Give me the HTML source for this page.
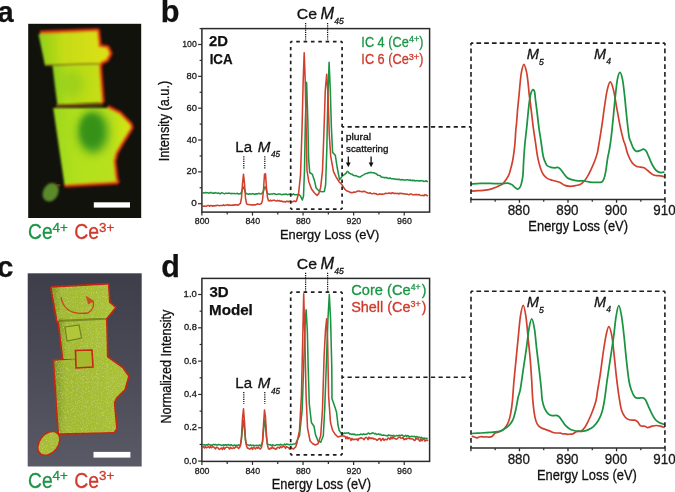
<!DOCTYPE html>
<html><head><meta charset="utf-8"><style>
html,body{margin:0;padding:0;background:#fff;width:675px;height:492px;overflow:hidden}
svg{display:block;will-change:transform}
</style></head><body>
<svg width="675" height="492" viewBox="0 0 675 492" font-family='"Liberation Sans", sans-serif'>
<defs><filter id="blur1" x="-20%" y="-20%" width="140%" height="140%"><feGaussianBlur stdDeviation="1.2"/></filter><filter id="blur2" x="-20%" y="-20%" width="140%" height="140%"><feGaussianBlur stdDeviation="2.5"/></filter><filter id="blur3" x="-50%" y="-50%" width="200%" height="200%"><feGaussianBlur stdDeviation="5"/></filter><filter id="grain" x="0" y="0" width="100%" height="100%"><feTurbulence type="fractalNoise" baseFrequency="0.9" numOctaves="1" seed="3" result="n"/><feColorMatrix in="n" type="matrix" values="0 0 0 0 0.35  0 0 0 0 0.35  0 0 0 0 0  0 0 0 0.9 -0.25" result="m"/><feComposite in="m" in2="SourceGraphic" operator="in"/></filter></defs>
<rect width="675" height="492" fill="#fff"/>
<text x="-2.53" y="21.8" font-size="29.07" font-weight="bold" fill="#111" stroke="#111" stroke-width="0.25">a</text>
<text x="160.77" y="21.8" font-size="30.76" font-weight="bold" fill="#111" stroke="#111" stroke-width="0.25">b</text>
<text x="-2.96" y="276.7" font-size="29.44" font-weight="bold" fill="#111" stroke="#111" stroke-width="0.25">c</text>
<text x="161.19" y="276.7" font-size="30.48" font-weight="bold" fill="#111" stroke="#111" stroke-width="0.25">d</text>
<rect x="28.2" y="23.8" width="113" height="194.2" fill="#11120c"/>
<defs><linearGradient id="ga1" x1="0" y1="0" x2="1" y2="0"><stop offset="0" stop-color="#8ccf1c"/><stop offset="0.35" stop-color="#c4dc14"/><stop offset="1" stop-color="#dfe014"/></linearGradient><linearGradient id="ga2" x1="0" y1="0" x2="1" y2="0"><stop offset="0" stop-color="#8ad01e"/><stop offset="0.3" stop-color="#b4dc1a"/><stop offset="1" stop-color="#c6de16"/></linearGradient><linearGradient id="ga3" x1="0" y1="0" x2="1" y2="0"><stop offset="0" stop-color="#9cd81c"/><stop offset="0.3" stop-color="#b2e01a"/><stop offset="0.75" stop-color="#b8e01a"/><stop offset="1" stop-color="#d6e418"/></linearGradient><filter id="fa" x="-10%" y="-10%" width="120%" height="120%"><feGaussianBlur stdDeviation="1.3"/></filter></defs>
<g filter="url(#fa)">
<path d="M40,33.8 L97,31.4 L98.6,47 L107,48.4 L109.2,53.5 L106,59.2 L100.2,62.2 L99.2,64.8" fill="none" stroke="#b8200c" stroke-width="7" stroke-linejoin="round"/>
<path d="M98.6,63.4 L101.6,102.8" fill="none" stroke="#b8200c" stroke-width="7" stroke-linejoin="round"/>
<path d="M107,108 L119.3,114.2 L129.4,124.4 L130.4,127.4 L125.4,135.6 L120.3,143.7 L115.2,152.8 L113.2,161 L115.2,179.3 L116.2,181.3 L64.4,184.3" fill="none" stroke="#b8200c" stroke-width="7" stroke-linejoin="round"/>
<path d="M40,33.8 L97,31.4 L98.6,47 L107,48.4 L109.2,53.5 L106,59.2 L100.2,62.2 L99.2,64.8" fill="none" stroke="#e0580e" stroke-width="3.6" stroke-linejoin="round"/>
<path d="M98.6,63.4 L101.6,102.8" fill="none" stroke="#e0580e" stroke-width="3.6" stroke-linejoin="round"/>
<path d="M107,108 L119.3,114.2 L129.4,124.4 L130.4,127.4 L125.4,135.6 L120.3,143.7 L115.2,152.8 L113.2,161 L115.2,179.3 L116.2,181.3 L64.4,184.3" fill="none" stroke="#e0580e" stroke-width="3.6" stroke-linejoin="round"/>
<path d="M38.50,34.20 L97.00,31.60 L98.50,47.00 L107.00,48.50 L109.00,53.50 L106.00,59.10 L100.20,62.00 L99.00,64.50 L45.00,65.50Z" fill="url(#ga1)"/>
<path d="M52.40,65.00 L98.60,63.30 L101.60,102.50 L57.30,104.50Z" fill="url(#ga2)"/>
<path d="M53.20,108.10 L107.00,108.10 L119.30,114.20 L129.40,124.40 L130.40,127.40 L125.40,135.60 L120.30,143.70 L115.20,152.80 L113.20,161.00 L115.20,179.30 L116.20,181.30 L64.40,184.30Z" fill="url(#ga3)"/>
<path d="M46,65.2 L99,63.6" stroke="#7d5a12" stroke-width="1.4" fill="none"/>
<path d="M56,105.8 L103,104.6" stroke="#9a3c10" stroke-width="2" fill="none"/>
</g>
<ellipse cx="93" cy="132" rx="15" ry="21" fill="#3a981c" filter="url(#blur3)"/>
<ellipse cx="91" cy="130" rx="10" ry="15" fill="#359018" opacity="0.8" filter="url(#blur2)"/>
<ellipse cx="72" cy="84" rx="12" ry="14" fill="#86c81e" opacity="0.5" filter="url(#blur3)"/>
<ellipse cx="50.6" cy="192.3" rx="7.5" ry="9.8" transform="rotate(28 50.6 192.3)" fill="#5a8a2c" filter="url(#blur1)"/>
<path d="M56,186 L60,184.5" stroke="#a04818" stroke-width="2" filter="url(#blur1)"/>
<rect x="93.8" y="202.3" width="36.2" height="5.3" fill="#fff"/>
<defs><linearGradient id="gbg" x1="0" y1="0" x2="0" y2="1"><stop offset="0" stop-color="#3e3e4b"/><stop offset="0.6" stop-color="#4e4e5b"/><stop offset="1" stop-color="#5a5a67"/></linearGradient></defs>
<rect x="27.7" y="273.3" width="114" height="193.2" fill="url(#gbg)"/>
<defs><filter id="tex" x="0" y="0" width="100%" height="100%"><feTurbulence type="fractalNoise" baseFrequency="0.8" numOctaves="2" seed="7" result="n"/><feColorMatrix in="n" type="matrix" values="0 0 0 0 0.74  0 0 0 0 0.8  0 0 0 0 0.28  1.6 0 0 0 -0.85" result="hi"/><feColorMatrix in="n" type="matrix" values="0 0 0 0 0.42  0 0 0 0 0.52  0 0 0 0 0.1  -2.6 0 0 0 1.25" result="lo"/><feComposite in="hi" in2="SourceGraphic" operator="in" result="hi2"/><feComposite in="lo" in2="SourceGraphic" operator="in" result="lo2"/><feMerge><feMergeNode in="SourceGraphic"/><feMergeNode in="hi2"/><feMergeNode in="lo2"/></feMerge></filter><filter id="fc" x="-10%" y="-10%" width="120%" height="120%"><feGaussianBlur stdDeviation="0.6"/></filter><linearGradient id="gc" x1="0" y1="0" x2="1" y2="0"><stop offset="0" stop-color="#7c9422"/><stop offset="0.15" stop-color="#a0b82e"/><stop offset="1" stop-color="#aac232"/></linearGradient></defs>
<g filter="url(#fc)">
<path d="M51.70,287.80 L107.90,284.80 L108.90,302.60 L114.80,307.50 L110.80,312.40 L105.90,318.40 L57.60,321.30Z" fill="none" stroke="#c42812" stroke-width="3.4" stroke-linejoin="round"/>
<path d="M58.60,318.50 L105.90,316.40 L106.90,358.00 L63.50,359.00Z" fill="none" stroke="#c42812" stroke-width="3.4" stroke-linejoin="round"/>
<path d="M54.20,360.70 L106.60,357.10 L122.00,367.90 L128.00,376.20 L124.40,389.30 L116.10,397.60 L113.70,402.40 L116.10,428.60 L113.70,432.10 L59.00,433.30Z" fill="none" stroke="#c42812" stroke-width="3.4" stroke-linejoin="round"/>
<ellipse cx="48.8" cy="443.4" rx="8.5" ry="12.5" transform="rotate(38 48.8 443.4)" fill="none" stroke="#c42812" stroke-width="3"/>
</g>
<g filter="url(#tex)">
<path d="M51.70,287.80 L107.90,284.80 L108.90,302.60 L114.80,307.50 L110.80,312.40 L105.90,318.40 L57.60,321.30Z" fill="url(#gc)"/>
<path d="M58.60,318.50 L105.90,316.40 L106.90,358.00 L63.50,359.00Z" fill="url(#gc)"/>
<path d="M54.20,360.70 L106.60,357.10 L122.00,367.90 L128.00,376.20 L124.40,389.30 L116.10,397.60 L113.70,402.40 L116.10,428.60 L113.70,432.10 L59.00,433.30Z" fill="url(#gc)"/>
<ellipse cx="48.8" cy="443.4" rx="8.5" ry="12.5" transform="rotate(38 48.8 443.4)" fill="#a8bc30"/>
</g>
<path d="M58.5,321 L106,318.6" stroke="#6c7c1c" stroke-width="2.2" opacity="0.8" filter="url(#fc)"/>
<path d="M65,327 L79,325 L81.5,338 L67,341Z" fill="#b2c63a" stroke="#6f8420" stroke-width="1.2"/>
<path d="M75.5,350.5 L92,350 L93,367 L76,368Z" fill="#a6ba30" stroke="#c42812" stroke-width="1.6"/>
<path d="M61,297 Q64,316 88,313 Q95,309 93,301" stroke="#c8301a" stroke-width="1.3" fill="none" opacity="0.85"/>
<path d="M86,296.5 L93,301 L88,304" stroke="#d23a1a" stroke-width="1.2" fill="#d23a1a" opacity="0.85"/>
<rect x="93.5" y="451.9" width="36.9" height="5.7" fill="#fff"/>
<text x="28.04" y="239.1" font-size="22.14" textLength="24.59" lengthAdjust="spacingAndGlyphs" fill="#1a9545" stroke="#1a9545" stroke-width="0.3">Ce</text>
<text x="52.53" y="231.9" font-size="13.48" textLength="15.34" lengthAdjust="spacingAndGlyphs" fill="#1a9545" stroke="#1a9545" stroke-width="0.3">4+</text>
<text x="74.23" y="239.1" font-size="22.14" textLength="24.81" lengthAdjust="spacingAndGlyphs" fill="#cf3a2c" stroke="#cf3a2c" stroke-width="0.3">Ce</text>
<text x="98.96" y="231.9" font-size="13.29" textLength="15.31" lengthAdjust="spacingAndGlyphs" fill="#cf3a2c" stroke="#cf3a2c" stroke-width="0.3">3+</text>
<text x="28.04" y="487.6" font-size="22.14" textLength="24.59" lengthAdjust="spacingAndGlyphs" fill="#1a9545" stroke="#1a9545" stroke-width="0.3">Ce</text>
<text x="52.53" y="480.4" font-size="13.48" textLength="15.34" lengthAdjust="spacingAndGlyphs" fill="#1a9545" stroke="#1a9545" stroke-width="0.3">4+</text>
<text x="74.23" y="487.6" font-size="22.14" textLength="24.81" lengthAdjust="spacingAndGlyphs" fill="#cf3a2c" stroke="#cf3a2c" stroke-width="0.3">Ce</text>
<text x="98.96" y="480.4" font-size="13.29" textLength="15.31" lengthAdjust="spacingAndGlyphs" fill="#cf3a2c" stroke="#cf3a2c" stroke-width="0.3">3+</text>
<path d="M202.50,192.27 L203.50,192.95 L204.50,192.91 L205.50,192.49 L206.50,192.74 L207.50,192.74 L208.50,192.95 L209.50,193.11 L210.50,192.53 L211.50,192.50 L212.50,193.27 L213.50,192.94 L214.50,193.27 L215.50,192.62 L216.50,193.06 L217.50,193.34 L218.50,192.94 L219.50,193.62 L220.50,193.62 L221.50,192.87 L222.50,192.90 L223.50,193.40 L224.50,193.80 L225.50,193.33 L226.50,193.22 L227.50,193.44 L228.50,193.12 L229.50,193.33 L230.50,193.55 L231.50,193.62 L232.50,193.41 L233.50,193.42 L234.50,193.43 L235.50,193.66 L236.50,193.53 L237.50,193.31 L238.50,194.06 L239.50,193.81 L240.50,193.75 L241.50,192.22 L242.50,189.30 L243.50,187.00 L244.50,189.30 L245.50,192.35 L246.50,193.83 L247.50,193.98 L248.50,194.19 L249.50,193.73 L250.50,194.10 L251.50,193.95 L252.50,193.62 L253.50,193.88 L254.50,194.14 L255.50,194.11 L256.50,193.80 L257.50,193.88 L258.50,193.38 L259.50,193.57 L260.50,194.07 L261.50,193.67 L262.50,192.94 L263.50,190.83 L264.50,187.00 L265.50,187.02 L266.50,190.90 L267.50,193.29 L268.50,193.90 L269.50,194.22 L270.50,194.01 L271.50,193.92 L272.50,194.02 L273.50,193.63 L274.50,193.67 L275.50,194.28 L276.50,194.56 L277.50,194.23 L278.50,194.07 L279.50,193.89 L280.50,194.21 L281.50,194.65 L282.50,194.47 L283.50,194.28 L284.50,194.58 L285.50,194.03 L286.50,194.29 L287.50,194.70 L288.50,194.37 L289.50,194.28 L290.50,194.12 L291.50,194.38 L292.50,194.76 L293.50,193.92 L294.50,194.63 L295.50,194.68 L296.50,194.75 L299.00,194.50 L300.50,196.00 L302.30,200.00 L303.50,196.00 L304.50,170.00 L305.40,120.00 L306.60,82.40 L307.80,120.00 L308.60,158.00 L309.70,172.50 L312.40,174.40 L314.30,179.90 L316.10,188.00 L318.80,190.80 L321.60,191.80 L324.30,191.50 L325.60,185.00 L326.80,150.00 L327.80,100.00 L329.10,62.30 L330.30,90.00 L331.40,128.00 L332.60,152.40 L335.30,155.20 L337.10,167.00 L339.60,179.80 L342.50,175.90 L345.00,174.21 L346.00,173.35 L347.00,171.60 L348.00,171.63 L349.00,172.96 L350.00,173.44 L351.00,173.95 L352.00,174.17 L353.00,175.05 L354.00,175.40 L355.00,175.70 L356.00,175.61 L357.00,176.21 L358.00,176.50 L359.00,177.08 L360.00,176.94 L361.00,176.48 L362.00,175.66 L363.00,175.15 L364.00,174.56 L365.00,173.91 L366.00,173.49 L367.00,173.51 L368.00,172.95 L369.00,172.60 L370.00,172.70 L371.00,172.29 L372.00,172.65 L373.00,172.66 L374.00,172.77 L375.00,173.40 L376.00,173.54 L377.00,174.37 L378.00,175.36 L379.00,175.55 L380.00,175.56 L381.00,176.78 L382.00,177.20 L383.00,177.29 L384.00,177.62 L385.00,177.63 L386.00,177.81 L387.00,177.53 L388.00,178.32 L389.00,178.47 L390.00,177.84 L391.00,178.61 L392.00,178.74 L393.00,178.66 L394.00,178.87 L395.00,178.92 L396.00,179.45 L397.00,179.12 L398.00,179.54 L399.00,179.16 L400.00,179.78 L401.00,179.88 L402.00,179.52 L403.00,179.71 L404.00,180.14 L405.00,180.02 L406.00,179.87 L407.00,179.68 L408.00,179.86 L409.00,180.32 L410.00,179.87 L411.00,180.67 L412.00,180.09 L413.00,180.79 L414.00,180.25 L415.00,180.96 L416.00,180.77 L417.00,180.62 L418.00,180.70 L419.00,180.89 L420.00,180.89 L421.00,180.67 L422.00,180.63 L423.00,180.99 L424.00,181.47 L425.00,181.22 L426.00,180.73 L427.00,181.53 L428.00,181.50" stroke="#1b9442" stroke-width="1.55" fill="none" stroke-linejoin="round"/>
<path d="M202.50,206.04 L203.50,206.29 L204.50,206.06 L205.50,206.24 L206.50,206.20 L207.50,205.59 L208.50,205.48 L209.50,206.25 L210.50,205.61 L211.50,205.53 L212.50,206.24 L213.50,205.65 L214.50,205.96 L215.50,205.56 L216.50,205.68 L217.50,205.15 L218.50,205.59 L219.50,205.79 L220.50,205.40 L221.50,205.58 L222.50,205.47 L223.50,204.82 L224.50,205.48 L225.50,205.27 L226.50,204.94 L227.50,204.63 L228.50,205.43 L229.50,204.99 L230.50,205.20 L231.50,205.32 L232.50,205.11 L233.50,205.28 L234.50,204.71 L235.50,205.08 L236.50,204.68 L237.50,205.14 L238.50,205.04 L239.50,204.15 L240.50,203.22 L241.50,197.90 L242.50,183.77 L243.50,174.20 L244.50,183.77 L245.50,197.90 L246.50,203.60 L247.50,204.41 L248.50,204.45 L249.50,204.69 L250.50,204.68 L251.50,205.00 L252.50,204.78 L253.50,205.03 L254.50,204.88 L255.50,204.88 L256.50,204.41 L257.50,203.76 L258.50,204.32 L259.50,204.28 L260.50,204.06 L261.50,203.16 L262.50,200.29 L263.50,189.46 L264.50,174.26 L265.50,173.83 L266.50,188.17 L267.50,197.50 L268.50,200.65 L269.50,201.05 L270.50,200.15 L271.50,200.85 L272.50,200.45 L273.50,200.17 L274.50,200.30 L275.50,200.82 L276.50,201.02 L277.50,200.29 L278.50,200.96 L279.50,200.49 L280.50,201.27 L281.50,200.98 L282.50,201.63 L283.50,201.83 L284.50,201.46 L285.50,202.02 L286.50,201.37 L287.50,201.18 L288.50,201.75 L289.50,201.22 L290.50,201.43 L291.50,201.69 L292.50,201.84 L293.50,201.26 L294.50,201.01 L295.50,201.70 L296.50,201.01 L298.70,192.70 L300.50,175.00 L302.00,130.00 L303.20,80.00 L304.20,52.80 L305.20,80.00 L306.20,130.00 L307.00,170.70 L308.80,181.70 L311.50,189.00 L314.30,192.70 L317.00,195.40 L318.80,193.60 L320.70,187.20 L322.50,170.70 L324.00,130.00 L325.30,90.00 L326.70,74.20 L328.00,95.00 L329.30,135.00 L330.70,156.10 L333.50,171.60 L336.20,177.10 L339.00,181.70 L341.70,184.40 L345.00,189.46 L346.00,190.26 L347.00,191.07 L348.00,191.29 L349.00,191.68 L350.00,192.19 L351.00,192.76 L352.00,192.63 L353.00,192.59 L354.00,191.99 L355.00,192.34 L356.00,191.81 L357.00,191.43 L358.00,191.08 L359.00,190.93 L360.00,191.48 L361.00,191.52 L362.00,191.64 L363.00,191.78 L364.00,191.26 L365.00,191.57 L366.00,192.20 L367.00,192.59 L368.00,193.00 L369.00,193.30 L370.00,192.71 L371.00,193.47 L372.00,193.66 L373.00,193.60 L374.00,193.35 L375.00,193.80 L376.00,193.49 L377.00,194.54 L378.00,194.58 L379.00,194.18 L380.00,193.81 L381.00,194.39 L382.00,193.92 L383.00,194.17 L384.00,194.04 L385.00,193.57 L386.00,193.37 L387.00,193.48 L388.00,193.23 L389.00,192.95 L390.00,193.12 L391.00,193.70 L392.00,192.87 L393.00,192.89 L394.00,193.54 L395.00,193.18 L396.00,193.47 L397.00,193.42 L398.00,193.29 L399.00,194.03 L400.00,193.17 L401.00,193.50 L402.00,193.37 L403.00,193.95 L404.00,193.65 L405.00,193.84 L406.00,194.37 L407.00,194.00 L408.00,194.36 L409.00,194.84 L410.00,194.06 L411.00,194.07 L412.00,194.30 L413.00,194.94 L414.00,194.83 L415.00,194.46 L416.00,194.61 L417.00,194.50 L418.00,194.85 L419.00,194.45 L420.00,195.22 L421.00,195.47 L422.00,195.57 L423.00,195.36 L424.00,195.65 L425.00,194.65 L426.00,194.98 L427.00,195.76 L428.00,195.59" stroke="#d0402e" stroke-width="1.55" fill="none" stroke-linejoin="round"/>
<rect x="201.9" y="28.6" width="227.70" height="183.50" fill="none" stroke="#2b2b2b" stroke-width="1.5"/>
<line x1="198.1" y1="203.70" x2="201.9" y2="203.70" stroke="#2b2b2b" stroke-width="1.2"/>
<line x1="198.1" y1="171.86" x2="201.9" y2="171.86" stroke="#2b2b2b" stroke-width="1.2"/>
<line x1="198.1" y1="140.02" x2="201.9" y2="140.02" stroke="#2b2b2b" stroke-width="1.2"/>
<line x1="198.1" y1="108.18" x2="201.9" y2="108.18" stroke="#2b2b2b" stroke-width="1.2"/>
<line x1="198.1" y1="76.34" x2="201.9" y2="76.34" stroke="#2b2b2b" stroke-width="1.2"/>
<line x1="198.1" y1="44.50" x2="201.9" y2="44.50" stroke="#2b2b2b" stroke-width="1.2"/>
<line x1="199.6" y1="187.78" x2="201.9" y2="187.78" stroke="#2b2b2b" stroke-width="1.2"/>
<line x1="199.6" y1="155.94" x2="201.9" y2="155.94" stroke="#2b2b2b" stroke-width="1.2"/>
<line x1="199.6" y1="124.10" x2="201.9" y2="124.10" stroke="#2b2b2b" stroke-width="1.2"/>
<line x1="199.6" y1="92.26" x2="201.9" y2="92.26" stroke="#2b2b2b" stroke-width="1.2"/>
<line x1="199.6" y1="60.42" x2="201.9" y2="60.42" stroke="#2b2b2b" stroke-width="1.2"/>
<line x1="199.6" y1="28.58" x2="201.9" y2="28.58" stroke="#2b2b2b" stroke-width="1.2"/>
<text x="191.3" y="206.2" font-size="9.86" textLength="5.56" lengthAdjust="spacingAndGlyphs" fill="#1a1a1a" stroke="#1a1a1a" stroke-width="0.3">0</text>
<text x="186.43" y="174.36" font-size="9.86" textLength="10.42" lengthAdjust="spacingAndGlyphs" fill="#1a1a1a" stroke="#1a1a1a" stroke-width="0.3">20</text>
<text x="186.72" y="142.52" font-size="9.86" textLength="10.12" lengthAdjust="spacingAndGlyphs" fill="#1a1a1a" stroke="#1a1a1a" stroke-width="0.3">40</text>
<text x="186.43" y="110.68" font-size="9.86" textLength="10.42" lengthAdjust="spacingAndGlyphs" fill="#1a1a1a" stroke="#1a1a1a" stroke-width="0.3">60</text>
<text x="186.48" y="78.84" font-size="9.86" textLength="10.37" lengthAdjust="spacingAndGlyphs" fill="#1a1a1a" stroke="#1a1a1a" stroke-width="0.3">80</text>
<text x="182.24" y="47.0" font-size="9.86" textLength="14.59" lengthAdjust="spacingAndGlyphs" fill="#1a1a1a" stroke="#1a1a1a" stroke-width="0.3">100</text>
<line x1="201.90" y1="212.1" x2="201.90" y2="215.6" stroke="#2b2b2b" stroke-width="1.2"/>
<text x="194.8" y="224.3" font-size="9.71" textLength="14.74" lengthAdjust="spacingAndGlyphs" fill="#1a1a1a" stroke="#1a1a1a" stroke-width="0.3">800</text>
<line x1="252.48" y1="212.1" x2="252.48" y2="215.6" stroke="#2b2b2b" stroke-width="1.2"/>
<text x="245.38" y="224.3" font-size="9.71" textLength="14.74" lengthAdjust="spacingAndGlyphs" fill="#1a1a1a" stroke="#1a1a1a" stroke-width="0.3">840</text>
<line x1="303.06" y1="212.1" x2="303.06" y2="215.6" stroke="#2b2b2b" stroke-width="1.2"/>
<text x="295.96" y="224.3" font-size="9.71" textLength="14.74" lengthAdjust="spacingAndGlyphs" fill="#1a1a1a" stroke="#1a1a1a" stroke-width="0.3">880</text>
<line x1="353.64" y1="212.1" x2="353.64" y2="215.6" stroke="#2b2b2b" stroke-width="1.2"/>
<text x="346.54" y="224.3" font-size="9.71" textLength="14.74" lengthAdjust="spacingAndGlyphs" fill="#1a1a1a" stroke="#1a1a1a" stroke-width="0.3">920</text>
<line x1="404.22" y1="212.1" x2="404.22" y2="215.6" stroke="#2b2b2b" stroke-width="1.2"/>
<text x="397.12" y="224.3" font-size="9.71" textLength="14.74" lengthAdjust="spacingAndGlyphs" fill="#1a1a1a" stroke="#1a1a1a" stroke-width="0.3">960</text>
<line x1="227.19" y1="212.1" x2="227.19" y2="214.6" stroke="#2b2b2b" stroke-width="1.2"/>
<line x1="277.77" y1="212.1" x2="277.77" y2="214.6" stroke="#2b2b2b" stroke-width="1.2"/>
<line x1="328.35" y1="212.1" x2="328.35" y2="214.6" stroke="#2b2b2b" stroke-width="1.2"/>
<line x1="378.93" y1="212.1" x2="378.93" y2="214.6" stroke="#2b2b2b" stroke-width="1.2"/>
<text x="279.97" y="239.2" font-size="13.48" textLength="99.21" lengthAdjust="spacingAndGlyphs" fill="#111" stroke="#111" stroke-width="0.3">Energy Loss (eV)</text>
<text transform="translate(168.70 160.20) rotate(-90)" x="-1.14" y="0" font-size="14.20" fill="#111" stroke="#111" stroke-width="0.3" textLength="80.52" lengthAdjust="spacingAndGlyphs">Intensity (a.u.)</text>
<line x1="290.70" y1="41.60" x2="342.10" y2="41.60" stroke="#1e1e1e" stroke-width="1.7" stroke-dasharray="3.60 3.74" stroke-dashoffset="1.80"/>
<line x1="290.70" y1="209.10" x2="342.10" y2="209.10" stroke="#1e1e1e" stroke-width="1.7" stroke-dasharray="3.60 3.74" stroke-dashoffset="1.80"/>
<line x1="290.70" y1="41.60" x2="290.70" y2="209.10" stroke="#1e1e1e" stroke-width="1.7" stroke-dasharray="3.40 3.58" stroke-dashoffset="1.70"/>
<line x1="342.10" y1="41.60" x2="342.10" y2="209.10" stroke="#1e1e1e" stroke-width="1.7" stroke-dasharray="3.40 3.58" stroke-dashoffset="1.70"/>
<line x1="342.10" y1="126.90" x2="471.00" y2="126.90" stroke="#1e1e1e" stroke-width="1.6" stroke-dasharray="4.20 3.38" stroke-dashoffset="2.10"/>
<text x="296.71" y="19.1" font-size="15.14" textLength="20.26" lengthAdjust="spacingAndGlyphs" fill="#111" stroke="#111" stroke-width="0.3">Ce</text>
<text x="320.61" y="19.1" font-size="15.65" font-style="italic" textLength="13.56" lengthAdjust="spacingAndGlyphs" fill="#111" stroke="#111" stroke-width="0.3">M</text>
<text x="334.36" y="24.4" font-size="9.14" font-style="italic" textLength="9.52" lengthAdjust="spacingAndGlyphs" fill="#111" stroke="#111" stroke-width="0.3">45</text>
<line x1="305.6" y1="23" x2="305.6" y2="40.800000000000004" stroke="#111" stroke-width="1.25" stroke-dasharray="1.2 1"/>
<line x1="327.6" y1="23" x2="327.6" y2="40.800000000000004" stroke="#111" stroke-width="1.25" stroke-dasharray="1.2 1"/>
<text x="235.3" y="151.7" font-size="15.07" textLength="16.74" lengthAdjust="spacingAndGlyphs" fill="#111" stroke="#111" stroke-width="0.3">La</text>
<text x="257.65" y="151.7" font-size="15.07" font-style="italic" textLength="12.63" lengthAdjust="spacingAndGlyphs" fill="#111" stroke="#111" stroke-width="0.3">M</text>
<text x="270.96" y="157.3" font-size="9.57" font-style="italic" textLength="9.12" lengthAdjust="spacingAndGlyphs" fill="#111" stroke="#111" stroke-width="0.3">45</text>
<line x1="243.8" y1="156.3" x2="243.8" y2="168.8" stroke="#111" stroke-width="1.25" stroke-dasharray="1.2 1"/>
<line x1="264.8" y1="156.3" x2="264.8" y2="168.8" stroke="#111" stroke-width="1.25" stroke-dasharray="1.2 1"/>
<text x="208.98" y="45.8" font-size="14.0" font-weight="bold" textLength="18.96" lengthAdjust="spacingAndGlyphs" fill="#111" stroke="#111" stroke-width="0.25">2D</text>
<text x="209.63" y="64.2" font-size="14.35" font-weight="bold" textLength="22.93" lengthAdjust="spacingAndGlyphs" fill="#111" stroke="#111" stroke-width="0.25">ICA</text>
<text x="361.36" y="46.6" font-size="14.78" textLength="47.36" lengthAdjust="spacingAndGlyphs" fill="#1a9545" stroke="#1a9545" stroke-width="0.3">IC 4 (Ce</text>
<text x="408.92" y="41.8" font-size="8.55" textLength="10.23" lengthAdjust="spacingAndGlyphs" fill="#1a9545" stroke="#1a9545" stroke-width="0.3">4+</text>
<text x="419.34" y="46.6" font-size="14.21" textLength="4.15" lengthAdjust="spacingAndGlyphs" fill="#1a9545" stroke="#1a9545" stroke-width="0.3">)</text>
<text x="361.36" y="64.2" font-size="14.35" textLength="47.36" lengthAdjust="spacingAndGlyphs" fill="#cf3a2c" stroke="#cf3a2c" stroke-width="0.3">IC 6 (Ce</text>
<text x="408.73" y="59.6" font-size="8.43" textLength="10.42" lengthAdjust="spacingAndGlyphs" fill="#cf3a2c" stroke="#cf3a2c" stroke-width="0.3">3+</text>
<text x="419.34" y="64.2" font-size="14.07" textLength="4.15" lengthAdjust="spacingAndGlyphs" fill="#cf3a2c" stroke="#cf3a2c" stroke-width="0.3">)</text>
<path d="M202.50,444.64 L203.50,444.79 L204.50,444.88 L205.50,445.07 L206.50,444.88 L207.50,445.11 L208.50,444.15 L209.50,444.66 L210.50,445.22 L211.50,444.92 L212.50,445.23 L213.50,444.39 L214.50,444.81 L215.50,444.59 L216.50,444.95 L217.50,445.01 L218.50,444.42 L219.50,444.67 L220.50,444.76 L221.50,445.48 L222.50,445.33 L223.50,444.68 L224.50,445.39 L225.50,444.69 L226.50,445.23 L227.50,444.70 L228.50,444.58 L229.50,445.55 L230.50,444.84 L231.50,444.86 L232.50,445.72 L233.50,445.61 L234.50,444.99 L235.50,445.74 L236.50,445.29 L237.50,445.46 L238.50,444.95 L239.50,445.70 L240.50,444.47 L241.50,438.90 L242.50,426.84 L243.50,420.33 L244.50,429.46 L245.50,440.24 L246.50,444.31 L247.50,444.85 L248.50,445.16 L249.50,445.50 L250.50,444.85 L251.50,445.60 L252.50,445.24 L253.50,445.21 L254.50,445.78 L255.50,445.42 L256.50,445.25 L257.50,445.44 L258.50,445.69 L259.50,444.99 L260.50,445.98 L261.50,444.44 L262.50,441.66 L263.50,430.64 L264.50,420.27 L265.50,425.33 L266.50,437.81 L267.50,444.03 L268.50,444.57 L269.50,444.67 L270.50,444.78 L271.50,445.59 L272.50,444.71 L273.50,445.28 L274.50,445.43 L275.50,445.40 L276.50,444.70 L277.50,444.67 L278.50,444.81 L279.50,445.04 L280.50,444.26 L281.50,444.93 L282.50,444.94 L283.50,444.96 L284.50,444.01 L285.50,444.98 L286.50,444.01 L287.50,444.25 L288.50,444.52 L289.50,444.83 L290.50,444.17 L291.50,444.78 L292.50,444.34 L293.50,444.05 L294.50,444.03 L295.50,443.85 L299.50,435.70 L302.20,409.30 L304.00,356.40 L305.10,325.00 L306.10,309.70 L307.30,330.00 L308.20,368.00 L309.30,404.00 L311.40,422.50 L314.10,426.50 L315.40,434.40 L318.00,441.00 L320.70,442.30 L323.30,435.70 L324.70,409.30 L326.60,356.40 L328.00,318.00 L329.30,294.60 L330.60,320.00 L331.80,368.00 L332.00,398.70 L333.90,404.00 L336.50,412.00 L338.00,425.00 L339.20,430.40 L341.80,434.40 L344.60,432.98 L345.60,433.25 L346.60,433.04 L347.60,432.98 L348.60,432.87 L349.60,433.97 L350.60,433.87 L351.60,434.38 L352.60,434.01 L353.60,434.66 L354.60,434.15 L355.60,434.98 L356.60,435.02 L357.60,434.64 L358.60,434.70 L359.60,434.78 L360.60,434.03 L361.60,434.39 L362.60,434.61 L363.60,433.80 L364.60,434.39 L365.60,434.15 L366.60,434.26 L367.60,433.50 L368.60,433.09 L369.60,433.92 L370.60,433.83 L371.60,433.27 L372.60,432.86 L373.60,433.14 L374.60,433.86 L375.60,433.56 L376.60,434.57 L377.60,434.25 L378.60,433.89 L379.60,434.63 L380.60,434.36 L381.60,435.23 L382.60,435.32 L383.60,434.92 L384.60,435.21 L385.60,435.40 L386.60,435.66 L387.60,435.98 L388.60,434.82 L389.60,435.34 L390.60,435.73 L391.60,435.43 L392.60,435.88 L393.60,435.31 L394.60,436.38 L395.60,435.88 L396.60,435.31 L397.60,435.98 L398.60,435.48 L399.60,435.29 L400.60,435.62 L401.60,435.13 L402.60,435.31 L403.60,436.26 L404.60,436.14 L405.60,435.34 L406.60,436.43 L407.60,435.54 L408.60,436.04 L409.60,436.88 L410.60,436.61 L411.60,436.29 L412.60,436.48 L413.60,436.59 L414.60,436.34 L415.60,437.57 L416.60,436.43 L417.60,437.02 L418.60,437.55 L419.60,437.20 L420.60,438.07 L421.60,437.22 L422.60,438.28 L423.60,438.28 L424.60,438.14 L425.60,438.60 L426.60,438.20 L427.60,438.87" stroke="#1b9442" stroke-width="1.55" fill="none" stroke-linejoin="round"/>
<path d="M202.50,447.02 L203.50,446.60 L204.50,448.00 L205.50,446.48 L206.50,447.78 L207.50,447.37 L208.50,446.58 L209.50,447.84 L210.50,446.62 L211.50,447.73 L212.50,446.80 L213.50,446.90 L214.50,447.84 L215.50,448.98 L216.50,447.12 L217.50,447.44 L218.50,448.58 L219.50,449.49 L220.50,448.50 L221.50,448.00 L222.50,449.55 L223.50,447.02 L224.50,449.20 L225.50,447.65 L226.50,447.24 L227.50,447.16 L228.50,447.66 L229.50,449.01 L230.50,447.28 L231.50,448.35 L232.50,448.49 L233.50,447.75 L234.50,448.21 L235.50,446.89 L236.50,446.86 L237.50,447.24 L238.50,448.50 L239.50,447.61 L240.50,445.38 L241.50,436.77 L242.50,418.29 L243.50,408.78 L244.50,422.18 L245.50,439.55 L246.50,446.00 L247.50,448.19 L248.50,448.18 L249.50,449.14 L250.50,448.76 L251.50,447.58 L252.50,449.47 L253.50,447.15 L254.50,447.98 L255.50,448.91 L256.50,447.29 L257.50,448.21 L258.50,447.01 L259.50,448.72 L260.50,448.91 L261.50,447.38 L262.50,442.09 L263.50,424.78 L264.50,410.06 L265.50,417.20 L266.50,435.60 L267.50,445.47 L268.50,448.76 L269.50,449.26 L270.50,447.97 L271.50,448.45 L272.50,446.79 L273.50,448.49 L274.50,448.32 L275.50,449.22 L276.50,448.73 L277.50,447.25 L278.50,447.49 L279.50,448.22 L280.50,446.45 L281.50,447.60 L282.50,446.78 L283.50,446.61 L284.50,446.42 L285.50,448.37 L286.50,446.75 L287.50,447.17 L288.50,447.66 L289.50,449.06 L290.50,447.02 L291.50,448.12 L292.50,448.49 L293.50,448.93 L294.50,447.90 L295.50,447.17 L296.50,444.74 L299.50,430.40 L301.40,396.00 L302.70,340.00 L303.70,293.80 L304.80,335.00 L306.10,396.00 L307.50,427.80 L310.10,441.00 L312.80,443.70 L315.40,445.00 L318.00,443.70 L320.70,435.70 L322.50,409.30 L324.10,356.40 L325.50,330.00 L326.70,318.70 L327.60,340.00 L328.60,396.00 L330.50,422.50 L332.60,430.40 L335.20,434.40 L337.90,437.00 L341.80,435.70 L345.00,436.23 L346.00,438.71 L347.00,436.79 L348.00,438.82 L349.00,437.51 L350.00,438.31 L351.00,440.51 L352.00,438.39 L353.00,439.70 L354.00,439.28 L355.00,439.36 L356.00,439.57 L357.00,438.82 L358.00,440.50 L359.00,438.26 L360.00,438.50 L361.00,437.74 L362.00,438.27 L363.00,438.50 L364.00,439.72 L365.00,438.15 L366.00,437.36 L367.00,437.73 L368.00,439.74 L369.00,437.10 L370.00,438.62 L371.00,437.90 L372.00,438.65 L373.00,437.95 L374.00,439.14 L375.00,438.80 L376.00,439.43 L377.00,440.34 L378.00,439.64 L379.00,438.62 L380.00,438.41 L381.00,440.76 L382.00,439.36 L383.00,438.41 L384.00,440.40 L385.00,439.25 L386.00,439.55 L387.00,439.85 L388.00,438.05 L389.00,438.11 L390.00,439.44 L391.00,437.22 L392.00,438.85 L393.00,436.85 L394.00,438.37 L395.00,438.40 L396.00,439.15 L397.00,438.91 L398.00,438.01 L399.00,437.21 L400.00,437.13 L401.00,438.24 L402.00,438.27 L403.00,437.20 L404.00,439.68 L405.00,438.72 L406.00,439.41 L407.00,438.21 L408.00,438.43 L409.00,437.93 L410.00,438.86 L411.00,438.65 L412.00,439.09 L413.00,438.96 L414.00,440.24 L415.00,440.40 L416.00,438.39 L417.00,439.08 L418.00,438.57 L419.00,440.09 L420.00,441.10 L421.00,439.07 L422.00,440.79 L423.00,439.62 L424.00,438.96 L425.00,441.26 L426.00,440.27 L427.00,439.98 L428.00,440.92" stroke="#d0402e" stroke-width="1.55" fill="none" stroke-linejoin="round"/>
<rect x="201.9" y="278.40000000000003" width="227.70" height="183.00" fill="none" stroke="#2b2b2b" stroke-width="1.5"/>
<line x1="198.1" y1="461.10" x2="201.9" y2="461.10" stroke="#2b2b2b" stroke-width="1.2"/>
<line x1="198.1" y1="427.78" x2="201.9" y2="427.78" stroke="#2b2b2b" stroke-width="1.2"/>
<line x1="198.1" y1="394.46" x2="201.9" y2="394.46" stroke="#2b2b2b" stroke-width="1.2"/>
<line x1="198.1" y1="361.14" x2="201.9" y2="361.14" stroke="#2b2b2b" stroke-width="1.2"/>
<line x1="198.1" y1="327.82" x2="201.9" y2="327.82" stroke="#2b2b2b" stroke-width="1.2"/>
<line x1="198.1" y1="294.50" x2="201.9" y2="294.50" stroke="#2b2b2b" stroke-width="1.2"/>
<line x1="199.6" y1="444.44" x2="201.9" y2="444.44" stroke="#2b2b2b" stroke-width="1.2"/>
<line x1="199.6" y1="411.12" x2="201.9" y2="411.12" stroke="#2b2b2b" stroke-width="1.2"/>
<line x1="199.6" y1="377.80" x2="201.9" y2="377.80" stroke="#2b2b2b" stroke-width="1.2"/>
<line x1="199.6" y1="344.48" x2="201.9" y2="344.48" stroke="#2b2b2b" stroke-width="1.2"/>
<line x1="199.6" y1="311.16" x2="201.9" y2="311.16" stroke="#2b2b2b" stroke-width="1.2"/>
<text x="183.93" y="463.6" font-size="9.86" textLength="12.9" lengthAdjust="spacingAndGlyphs" fill="#1a1a1a" stroke="#1a1a1a" stroke-width="0.3">0.0</text>
<text x="183.92" y="430.28" font-size="9.86" textLength="13.05" lengthAdjust="spacingAndGlyphs" fill="#1a1a1a" stroke="#1a1a1a" stroke-width="0.3">0.2</text>
<text x="183.93" y="396.96" font-size="9.86" textLength="12.85" lengthAdjust="spacingAndGlyphs" fill="#1a1a1a" stroke="#1a1a1a" stroke-width="0.3">0.4</text>
<text x="183.93" y="363.64" font-size="9.86" textLength="12.95" lengthAdjust="spacingAndGlyphs" fill="#1a1a1a" stroke="#1a1a1a" stroke-width="0.3">0.6</text>
<text x="183.93" y="330.32" font-size="9.86" textLength="12.95" lengthAdjust="spacingAndGlyphs" fill="#1a1a1a" stroke="#1a1a1a" stroke-width="0.3">0.8</text>
<text x="183.59" y="297.0" font-size="9.86" textLength="13.25" lengthAdjust="spacingAndGlyphs" fill="#1a1a1a" stroke="#1a1a1a" stroke-width="0.3">1.0</text>
<line x1="201.90" y1="461.4" x2="201.90" y2="464.9" stroke="#2b2b2b" stroke-width="1.2"/>
<text x="194.8" y="473.6" font-size="9.71" textLength="14.74" lengthAdjust="spacingAndGlyphs" fill="#1a1a1a" stroke="#1a1a1a" stroke-width="0.3">800</text>
<line x1="252.48" y1="461.4" x2="252.48" y2="464.9" stroke="#2b2b2b" stroke-width="1.2"/>
<text x="245.38" y="473.6" font-size="9.71" textLength="14.74" lengthAdjust="spacingAndGlyphs" fill="#1a1a1a" stroke="#1a1a1a" stroke-width="0.3">840</text>
<line x1="303.06" y1="461.4" x2="303.06" y2="464.9" stroke="#2b2b2b" stroke-width="1.2"/>
<text x="295.96" y="473.6" font-size="9.71" textLength="14.74" lengthAdjust="spacingAndGlyphs" fill="#1a1a1a" stroke="#1a1a1a" stroke-width="0.3">880</text>
<line x1="353.64" y1="461.4" x2="353.64" y2="464.9" stroke="#2b2b2b" stroke-width="1.2"/>
<text x="346.54" y="473.6" font-size="9.71" textLength="14.74" lengthAdjust="spacingAndGlyphs" fill="#1a1a1a" stroke="#1a1a1a" stroke-width="0.3">920</text>
<line x1="404.22" y1="461.4" x2="404.22" y2="464.9" stroke="#2b2b2b" stroke-width="1.2"/>
<text x="397.12" y="473.6" font-size="9.71" textLength="14.74" lengthAdjust="spacingAndGlyphs" fill="#1a1a1a" stroke="#1a1a1a" stroke-width="0.3">960</text>
<line x1="227.19" y1="461.4" x2="227.19" y2="463.9" stroke="#2b2b2b" stroke-width="1.2"/>
<line x1="277.77" y1="461.4" x2="277.77" y2="463.9" stroke="#2b2b2b" stroke-width="1.2"/>
<line x1="328.35" y1="461.4" x2="328.35" y2="463.9" stroke="#2b2b2b" stroke-width="1.2"/>
<line x1="378.93" y1="461.4" x2="378.93" y2="463.9" stroke="#2b2b2b" stroke-width="1.2"/>
<text x="271.77" y="489.3" font-size="14.64" textLength="99.21" lengthAdjust="spacingAndGlyphs" fill="#111" stroke="#111" stroke-width="0.3">Energy Loss (eV)</text>
<text transform="translate(170.80 422.50) rotate(-90)" x="-1.00" y="0" font-size="14.06" fill="#111" stroke="#111" stroke-width="0.3" textLength="113.80" lengthAdjust="spacingAndGlyphs">Normalized Intensity</text>
<line x1="290.70" y1="292.20" x2="342.10" y2="292.20" stroke="#1e1e1e" stroke-width="1.7" stroke-dasharray="3.60 3.74" stroke-dashoffset="1.80"/>
<line x1="290.70" y1="454.80" x2="342.10" y2="454.80" stroke="#1e1e1e" stroke-width="1.7" stroke-dasharray="3.60 3.74" stroke-dashoffset="1.80"/>
<line x1="290.70" y1="292.20" x2="290.70" y2="454.80" stroke="#1e1e1e" stroke-width="1.7" stroke-dasharray="3.40 3.67" stroke-dashoffset="1.70"/>
<line x1="342.10" y1="292.20" x2="342.10" y2="454.80" stroke="#1e1e1e" stroke-width="1.7" stroke-dasharray="3.40 3.67" stroke-dashoffset="1.70"/>
<line x1="342.10" y1="377.20" x2="471.00" y2="377.20" stroke="#1e1e1e" stroke-width="1.6" stroke-dasharray="4.20 3.38" stroke-dashoffset="2.10"/>
<text x="296.71" y="268.9" font-size="15.14" textLength="20.26" lengthAdjust="spacingAndGlyphs" fill="#111" stroke="#111" stroke-width="0.3">Ce</text>
<text x="320.61" y="268.9" font-size="15.65" font-style="italic" textLength="13.56" lengthAdjust="spacingAndGlyphs" fill="#111" stroke="#111" stroke-width="0.3">M</text>
<text x="334.36" y="274.2" font-size="9.14" font-style="italic" textLength="9.52" lengthAdjust="spacingAndGlyphs" fill="#111" stroke="#111" stroke-width="0.3">45</text>
<line x1="305.6" y1="272.8" x2="305.6" y2="291.4" stroke="#111" stroke-width="1.25" stroke-dasharray="1.2 1"/>
<line x1="327.6" y1="272.8" x2="327.6" y2="291.4" stroke="#111" stroke-width="1.25" stroke-dasharray="1.2 1"/>
<text x="235.3" y="388.4" font-size="15.07" textLength="16.74" lengthAdjust="spacingAndGlyphs" fill="#111" stroke="#111" stroke-width="0.3">La</text>
<text x="257.65" y="388.4" font-size="15.07" font-style="italic" textLength="12.63" lengthAdjust="spacingAndGlyphs" fill="#111" stroke="#111" stroke-width="0.3">M</text>
<text x="270.96" y="394.0" font-size="9.57" font-style="italic" textLength="9.12" lengthAdjust="spacingAndGlyphs" fill="#111" stroke="#111" stroke-width="0.3">45</text>
<line x1="243.8" y1="392.1" x2="243.8" y2="403.7" stroke="#111" stroke-width="1.25" stroke-dasharray="1.2 1"/>
<line x1="264.8" y1="392.1" x2="264.8" y2="403.7" stroke="#111" stroke-width="1.25" stroke-dasharray="1.2 1"/>
<text x="209.42" y="297.1" font-size="14.0" font-weight="bold" textLength="19.23" lengthAdjust="spacingAndGlyphs" fill="#111" stroke="#111" stroke-width="0.25">3D</text>
<text x="209.01" y="315.2" font-size="14.62" font-weight="bold" textLength="43.83" lengthAdjust="spacingAndGlyphs" fill="#111" stroke="#111" stroke-width="0.25">Model</text>
<text x="351.27" y="294.8" font-size="14.35" textLength="59.32" lengthAdjust="spacingAndGlyphs" fill="#1a9545" stroke="#1a9545" stroke-width="0.3">Core (Ce</text>
<text x="410.73" y="289.8" font-size="8.84" textLength="9.91" lengthAdjust="spacingAndGlyphs" fill="#1a9545" stroke="#1a9545" stroke-width="0.3">4+</text>
<text x="421.83" y="294.8" font-size="14.34" textLength="4.65" lengthAdjust="spacingAndGlyphs" fill="#1a9545" stroke="#1a9545" stroke-width="0.3">)</text>
<text x="351.15" y="311.5" font-size="14.21" textLength="59.44" lengthAdjust="spacingAndGlyphs" fill="#cf3a2c" stroke="#cf3a2c" stroke-width="0.3">Shell (Ce</text>
<text x="410.55" y="306.7" font-size="8.71" textLength="10.1" lengthAdjust="spacingAndGlyphs" fill="#cf3a2c" stroke="#cf3a2c" stroke-width="0.3">3+</text>
<text x="421.83" y="311.5" font-size="14.48" textLength="4.65" lengthAdjust="spacingAndGlyphs" fill="#cf3a2c" stroke="#cf3a2c" stroke-width="0.3">)</text>
<path d="M471.00,191.20 C472.18,191.12 475.72,190.87 478.10,190.70 C480.48,190.53 482.92,190.55 485.30,190.20 C487.68,189.85 490.20,189.28 492.40,188.60 C494.60,187.92 496.82,186.85 498.50,186.10 C500.18,185.35 501.32,185.07 502.50,184.10 C503.68,183.13 504.58,181.75 505.60,180.30 C506.62,178.85 507.83,177.00 508.60,175.40 C509.37,173.80 509.52,173.18 510.20,170.70 C510.88,168.22 512.03,163.90 512.70,160.50 C513.37,157.10 513.78,153.68 514.20,150.30 C514.62,146.92 514.93,143.58 515.20,140.20 C515.47,136.82 515.58,132.72 515.80,130.00 C516.02,127.28 516.20,127.28 516.50,123.90 C516.80,120.52 517.18,114.43 517.60,109.70 C518.02,104.97 518.55,100.23 519.00,95.50 C519.45,90.77 519.87,85.32 520.30,81.30 C520.73,77.28 521.00,74.23 521.60,71.40 C522.20,68.57 523.10,64.30 523.90,64.30 C524.70,64.30 525.73,68.57 526.40,71.40 C527.07,74.23 527.42,77.28 527.90,81.30 C528.38,85.32 528.95,92.38 529.30,95.50 C529.65,98.62 529.60,96.88 530.00,100.00 C530.40,103.12 531.13,109.47 531.70,114.20 C532.27,118.93 532.77,123.67 533.40,128.40 C534.03,133.13 534.80,137.87 535.50,142.60 C536.20,147.33 536.77,152.53 537.60,156.80 C538.43,161.07 539.52,165.20 540.50,168.20 C541.48,171.20 542.38,173.10 543.50,174.80 C544.62,176.50 545.77,177.50 547.20,178.40 C548.63,179.30 550.47,179.68 552.10,180.20 C553.73,180.72 555.58,181.08 557.00,181.50 C558.42,181.92 559.28,182.05 560.60,182.70 C561.92,183.35 563.27,184.80 564.90,185.40 C566.53,186.00 568.68,186.25 570.40,186.30 C572.12,186.35 573.58,186.00 575.20,185.70 C576.82,185.40 578.67,185.20 580.10,184.50 C581.53,183.80 582.58,182.82 583.80,181.50 C585.02,180.18 586.18,178.63 587.40,176.60 C588.62,174.57 589.87,171.95 591.10,169.30 C592.33,166.65 593.78,163.35 594.80,160.70 C595.82,158.05 596.58,155.77 597.20,153.40 C597.82,151.03 597.73,151.05 598.50,146.50 C599.27,141.95 600.78,132.88 601.80,126.10 C602.82,119.32 603.68,111.88 604.60,105.80 C605.52,99.72 606.35,93.60 607.30,89.60 C608.25,85.60 609.28,81.80 610.30,81.80 C611.32,81.80 612.38,85.60 613.40,89.60 C614.42,93.60 615.28,99.72 616.40,105.80 C617.52,111.88 618.92,120.33 620.10,126.10 C621.28,131.87 622.68,137.38 623.50,140.40 C624.32,143.42 624.28,141.90 625.00,144.20 C625.72,146.50 626.62,151.12 627.80,154.20 C628.98,157.28 630.68,160.70 632.10,162.70 C633.52,164.70 634.88,165.45 636.30,166.20 C637.72,166.95 639.30,166.95 640.60,167.20 C641.90,167.45 642.92,167.15 644.10,167.70 C645.28,168.25 646.38,169.43 647.70,170.50 C649.02,171.57 650.70,173.27 652.00,174.10 C653.30,174.93 654.08,175.22 655.50,175.50 C656.92,175.78 658.97,175.57 660.50,175.80 C662.03,176.03 664.00,176.72 664.70,176.90" stroke="#d0402e" stroke-width="1.7" fill="none" stroke-linejoin="round"/>
<path d="M471.00,184.10 C472.53,183.98 476.98,183.52 480.20,183.40 C483.42,183.28 486.92,183.37 490.30,183.40 C493.68,183.43 497.62,183.65 500.50,183.60 C503.38,183.55 505.73,182.93 507.60,183.10 C509.47,183.27 510.52,183.93 511.70,184.60 C512.88,185.27 513.77,186.33 514.70,187.10 C515.63,187.87 516.45,189.12 517.30,189.20 C518.15,189.28 519.12,188.53 519.80,187.60 C520.48,186.67 520.88,185.63 521.40,183.60 C521.92,181.57 522.53,179.00 522.90,175.40 C523.27,171.80 523.28,167.07 523.60,162.00 C523.92,156.93 524.30,150.60 524.80,145.00 C525.30,139.40 526.03,133.90 526.60,128.40 C527.17,122.90 527.70,116.73 528.20,112.00 C528.70,107.27 529.13,103.17 529.60,100.00 C530.07,96.83 530.45,94.73 531.00,93.00 C531.55,91.27 532.30,89.77 532.90,89.60 C533.50,89.43 534.17,90.27 534.60,92.00 C535.03,93.73 535.05,96.30 535.50,100.00 C535.95,103.70 536.72,109.47 537.30,114.20 C537.88,118.93 538.35,123.67 539.00,128.40 C539.65,133.13 540.48,137.87 541.20,142.60 C541.92,147.33 542.48,153.25 543.30,156.80 C544.12,160.35 545.45,162.43 546.10,163.90 C546.75,165.37 546.40,165.02 547.20,165.60 C548.00,166.18 549.68,167.03 550.90,167.40 C552.12,167.77 553.38,167.80 554.50,167.80 C555.62,167.80 556.58,167.15 557.60,167.40 C558.62,167.65 559.58,168.28 560.60,169.30 C561.62,170.32 562.58,172.08 563.70,173.50 C564.82,174.92 565.98,176.78 567.30,177.80 C568.62,178.82 569.87,179.08 571.60,179.60 C573.33,180.12 575.67,180.68 577.70,180.90 C579.73,181.12 581.77,180.70 583.80,180.90 C585.83,181.10 587.87,181.85 589.90,182.10 C591.93,182.35 594.07,182.40 596.00,182.40 C597.93,182.40 600.18,182.67 601.50,182.10 C602.82,181.53 603.20,180.73 603.90,179.00 C604.60,177.27 605.08,175.15 605.70,171.70 C606.32,168.25 607.00,161.92 607.60,158.30 C608.20,154.68 608.68,153.67 609.30,150.00 C609.92,146.33 610.62,141.97 611.30,136.30 C611.98,130.63 612.72,122.77 613.40,116.00 C614.08,109.23 614.73,101.80 615.40,95.70 C616.07,89.60 616.65,83.30 617.40,79.40 C618.15,75.50 619.05,72.30 619.90,72.30 C620.75,72.30 621.72,75.50 622.50,79.40 C623.28,83.30 623.92,89.60 624.60,95.70 C625.28,101.80 625.87,109.23 626.60,116.00 C627.33,122.77 628.33,132.07 629.00,136.30 C629.67,140.53 629.85,139.37 630.60,141.40 C631.35,143.43 632.55,146.85 633.50,148.50 C634.45,150.15 635.23,150.95 636.30,151.30 C637.37,151.65 638.72,150.95 639.90,150.60 C641.08,150.25 642.33,149.08 643.40,149.20 C644.47,149.32 645.35,149.88 646.30,151.30 C647.25,152.72 648.03,155.33 649.10,157.70 C650.17,160.07 651.52,163.37 652.70,165.50 C653.88,167.63 654.90,169.32 656.20,170.50 C657.50,171.68 659.12,172.35 660.50,172.60 C661.88,172.85 663.83,172.10 664.50,172.00" stroke="#1b9442" stroke-width="1.75" fill="none" stroke-linejoin="round"/>
<line x1="471.00" y1="43.10" x2="664.90" y2="43.10" stroke="#1e1e1e" stroke-width="1.6" stroke-dasharray="4.70 3.06" stroke-dashoffset="2.35"/>
<line x1="471.00" y1="43.10" x2="471.00" y2="199.50" stroke="#1e1e1e" stroke-width="1.6" stroke-dasharray="4.70 3.12" stroke-dashoffset="2.35"/>
<line x1="664.90" y1="43.10" x2="664.90" y2="199.50" stroke="#1e1e1e" stroke-width="1.6" stroke-dasharray="4.70 3.12" stroke-dashoffset="2.35"/>
<line x1="470.4" y1="199.5" x2="665.5" y2="199.5" stroke="#2b2b2b" stroke-width="1.5"/>
<line x1="470.90" y1="199.5" x2="470.90" y2="202.7" stroke="#2b2b2b" stroke-width="1.3"/>
<line x1="519.45" y1="199.5" x2="519.45" y2="202.7" stroke="#2b2b2b" stroke-width="1.3"/>
<line x1="568.00" y1="199.5" x2="568.00" y2="202.7" stroke="#2b2b2b" stroke-width="1.3"/>
<line x1="616.55" y1="199.5" x2="616.55" y2="202.7" stroke="#2b2b2b" stroke-width="1.3"/>
<line x1="665.10" y1="199.5" x2="665.10" y2="202.7" stroke="#2b2b2b" stroke-width="1.3"/>
<line x1="495.17" y1="199.5" x2="495.17" y2="201.7" stroke="#2b2b2b" stroke-width="1.2"/>
<line x1="543.73" y1="199.5" x2="543.73" y2="201.7" stroke="#2b2b2b" stroke-width="1.2"/>
<line x1="592.27" y1="199.5" x2="592.27" y2="201.7" stroke="#2b2b2b" stroke-width="1.2"/>
<line x1="640.83" y1="199.5" x2="640.83" y2="201.7" stroke="#2b2b2b" stroke-width="1.2"/>
<text x="507.65" y="215.4" font-size="13.86" textLength="22.32" lengthAdjust="spacingAndGlyphs" fill="#1a1a1a" stroke="#1a1a1a" stroke-width="0.3">880</text>
<text x="556.2" y="215.4" font-size="13.86" textLength="22.32" lengthAdjust="spacingAndGlyphs" fill="#1a1a1a" stroke="#1a1a1a" stroke-width="0.3">890</text>
<text x="604.75" y="215.4" font-size="13.86" textLength="22.32" lengthAdjust="spacingAndGlyphs" fill="#1a1a1a" stroke="#1a1a1a" stroke-width="0.3">900</text>
<text x="653.3" y="215.4" font-size="13.86" textLength="22.32" lengthAdjust="spacingAndGlyphs" fill="#1a1a1a" stroke="#1a1a1a" stroke-width="0.3">910</text>
<text x="526.86" y="58.9" font-size="14.49" font-style="italic" textLength="12.21" lengthAdjust="spacingAndGlyphs" fill="#111" stroke="#111" stroke-width="0.3">M</text>
<text x="538.89" y="64.5" font-size="9.14" font-style="italic" textLength="4.78" lengthAdjust="spacingAndGlyphs" fill="#111" stroke="#111" stroke-width="0.3">5</text>
<text x="594.07" y="58.9" font-size="14.49" font-style="italic" textLength="12.0" lengthAdjust="spacingAndGlyphs" fill="#111" stroke="#111" stroke-width="0.3">M</text>
<text x="606.26" y="64.0" font-size="8.55" font-style="italic" textLength="4.75" lengthAdjust="spacingAndGlyphs" fill="#111" stroke="#111" stroke-width="0.3">4</text>
<text x="528.37" y="231.0" font-size="13.91" textLength="99.62" lengthAdjust="spacingAndGlyphs" fill="#111" stroke="#111" stroke-width="0.3">Energy Loss (eV)</text>
<path d="M471.70,436.26 C472.12,436.37 473.37,436.68 474.20,436.95 C475.03,437.22 475.91,437.87 476.70,437.88 C477.49,437.89 478.20,437.23 478.95,437.02 C479.70,436.81 480.27,436.61 481.20,436.61 C482.12,436.60 483.57,436.95 484.50,436.98 C485.43,437.01 486.00,436.73 486.75,436.77 C487.50,436.80 488.07,437.30 489.00,437.21 C489.93,437.12 491.28,436.92 492.30,436.22 C493.32,435.52 493.98,433.72 495.10,433.00 C496.22,432.28 497.78,432.37 499.00,431.90 C500.22,431.43 501.27,431.05 502.40,430.20 C503.53,429.35 504.78,428.20 505.80,426.80 C506.82,425.40 507.67,424.12 508.50,421.80 C509.33,419.48 510.15,416.37 510.80,412.90 C511.45,409.43 511.87,406.40 512.40,401.00 C512.93,395.60 513.38,387.48 514.00,380.50 C514.62,373.52 515.40,366.23 516.10,359.10 C516.80,351.97 517.48,344.82 518.20,337.70 C518.92,330.58 519.57,321.80 520.40,316.40 C521.23,311.00 522.28,305.30 523.20,305.30 C524.12,305.30 525.08,311.00 525.90,316.40 C526.72,321.80 527.38,330.58 528.10,337.70 C528.82,344.82 529.60,351.97 530.20,359.10 C530.80,366.23 531.27,373.67 531.70,380.50 C532.13,387.33 532.27,394.05 532.80,400.10 C533.33,406.15 534.15,412.80 534.90,416.80 C535.65,420.80 536.28,422.27 537.30,424.10 C538.32,425.93 539.57,426.88 541.00,427.80 C542.43,428.72 544.48,429.09 545.90,429.60 C547.32,430.11 548.28,430.39 549.50,430.88 C550.72,431.37 552.18,432.19 553.20,432.54 C554.22,432.90 554.80,432.93 555.60,433.00 C556.40,433.07 557.19,432.95 558.00,432.98 C558.81,433.01 559.63,433.02 560.45,433.16 C561.27,433.29 562.08,433.68 562.90,433.79 C563.72,433.89 564.53,433.70 565.35,433.80 C566.17,433.90 566.98,434.32 567.80,434.38 C568.62,434.44 569.43,434.24 570.25,434.17 C571.07,434.11 571.69,434.40 572.70,433.99 C573.71,433.58 574.88,432.22 576.30,431.70 C577.72,431.18 579.77,431.65 581.20,430.90 C582.63,430.15 583.68,428.93 584.90,427.20 C586.12,425.47 587.28,423.03 588.50,420.50 C589.72,417.97 590.97,415.25 592.20,412.00 C593.43,408.75 595.02,404.47 595.90,401.00 C596.78,397.53 596.77,395.68 597.50,391.20 C598.23,386.72 599.35,380.52 600.30,374.10 C601.25,367.68 602.25,359.12 603.20,352.70 C604.15,346.28 605.07,339.95 606.00,335.60 C606.93,331.25 607.83,326.60 608.80,326.60 C609.77,326.60 610.95,331.25 611.80,335.60 C612.65,339.95 613.18,346.28 613.90,352.70 C614.62,359.12 615.38,367.68 616.10,374.10 C616.82,380.52 617.65,387.05 618.20,391.20 C618.75,395.35 618.87,395.90 619.40,399.00 C619.93,402.10 620.47,406.80 621.40,409.80 C622.33,412.80 623.70,415.33 625.00,417.00 C626.30,418.67 627.55,419.27 629.20,419.80 C630.85,420.33 633.48,419.85 634.90,420.20 C636.32,420.55 636.75,420.97 637.70,421.90 C638.65,422.83 639.42,425.08 640.60,425.80 C641.78,426.52 643.62,425.90 644.80,426.20 C645.98,426.50 646.50,427.60 647.70,427.60 C648.90,427.60 650.58,426.55 652.00,426.20 C653.42,425.85 654.78,425.50 656.20,425.50 C657.62,425.50 659.08,425.85 660.50,426.20 C661.92,426.55 664.00,427.37 664.70,427.60" stroke="#d0402e" stroke-width="1.7" fill="none" stroke-linejoin="round"/>
<path d="M471.70,433.50 C473.28,433.42 478.13,433.18 481.20,433.00 C484.27,432.82 487.32,432.63 490.10,432.40 C492.88,432.17 495.85,431.97 497.90,431.60 C499.95,431.23 500.90,430.90 502.40,430.20 C503.90,429.50 505.60,428.43 506.90,427.40 C508.20,426.37 509.18,425.30 510.20,424.00 C511.22,422.70 512.15,421.63 513.00,419.60 C513.85,417.57 514.65,414.42 515.30,411.80 C515.95,409.18 516.42,406.37 516.90,403.90 C517.38,401.43 517.62,399.48 518.20,397.00 C518.78,394.52 519.57,393.53 520.40,389.00 C521.23,384.47 522.20,376.57 523.20,369.80 C524.20,363.03 525.45,355.17 526.40,348.40 C527.35,341.63 528.02,334.12 528.90,329.20 C529.78,324.28 530.77,318.90 531.70,318.90 C532.63,318.90 533.68,324.28 534.50,329.20 C535.32,334.12 535.82,341.63 536.60,348.40 C537.38,355.17 538.42,363.03 539.20,369.80 C539.98,376.57 540.80,384.00 541.30,389.00 C541.80,394.00 541.65,396.58 542.20,399.80 C542.75,403.02 543.58,405.97 544.60,408.30 C545.62,410.63 547.07,412.58 548.30,413.80 C549.53,415.02 550.68,415.33 552.00,415.60 C553.32,415.87 554.98,415.20 556.20,415.40 C557.42,415.60 558.28,415.85 559.30,416.80 C560.32,417.75 561.28,419.67 562.30,421.10 C563.32,422.53 564.28,424.18 565.40,425.40 C566.52,426.62 567.58,427.55 569.00,428.40 C570.42,429.25 572.27,430.03 573.90,430.50 C575.53,430.97 577.17,431.08 578.80,431.20 C580.43,431.32 582.08,431.47 583.70,431.20 C585.32,430.93 586.88,430.37 588.50,429.60 C590.12,428.83 591.77,428.12 593.40,426.60 C595.03,425.08 596.87,422.93 598.30,420.50 C599.73,418.07 600.97,415.42 602.00,412.00 C603.03,408.58 603.65,405.25 604.50,400.00 C605.35,394.75 606.13,387.32 607.10,380.50 C608.07,373.68 609.23,366.23 610.30,359.10 C611.37,351.97 612.53,344.82 613.50,337.70 C614.47,330.58 615.22,321.73 616.10,316.40 C616.98,311.07 617.88,305.70 618.80,305.70 C619.72,305.70 620.70,311.07 621.60,316.40 C622.50,321.73 623.42,330.58 624.20,337.70 C624.98,344.82 625.52,351.97 626.30,359.10 C627.08,366.23 628.07,375.35 628.90,380.50 C629.73,385.65 630.30,387.23 631.30,390.00 C632.30,392.77 633.70,395.73 634.90,397.10 C636.10,398.47 637.20,398.08 638.50,398.20 C639.80,398.32 641.52,397.52 642.70,397.80 C643.88,398.08 644.65,398.48 645.60,399.90 C646.55,401.32 647.33,403.93 648.40,406.30 C649.47,408.67 650.82,411.85 652.00,414.10 C653.18,416.35 654.32,418.38 655.50,419.80 C656.68,421.22 657.80,421.88 659.10,422.60 C660.40,423.32 662.35,423.82 663.30,424.10 C664.25,424.38 664.55,424.27 664.80,424.30" stroke="#1b9442" stroke-width="1.75" fill="none" stroke-linejoin="round"/>
<line x1="471.00" y1="291.20" x2="664.90" y2="291.20" stroke="#1e1e1e" stroke-width="1.6" stroke-dasharray="4.70 3.06" stroke-dashoffset="2.35"/>
<line x1="471.00" y1="291.20" x2="471.00" y2="448.10" stroke="#1e1e1e" stroke-width="1.6" stroke-dasharray="4.70 3.15" stroke-dashoffset="2.35"/>
<line x1="664.90" y1="291.20" x2="664.90" y2="448.10" stroke="#1e1e1e" stroke-width="1.6" stroke-dasharray="4.70 3.15" stroke-dashoffset="2.35"/>
<line x1="470.4" y1="448.1" x2="665.5" y2="448.1" stroke="#2b2b2b" stroke-width="1.5"/>
<line x1="470.90" y1="448.1" x2="470.90" y2="451.3" stroke="#2b2b2b" stroke-width="1.3"/>
<line x1="519.45" y1="448.1" x2="519.45" y2="451.3" stroke="#2b2b2b" stroke-width="1.3"/>
<line x1="568.00" y1="448.1" x2="568.00" y2="451.3" stroke="#2b2b2b" stroke-width="1.3"/>
<line x1="616.55" y1="448.1" x2="616.55" y2="451.3" stroke="#2b2b2b" stroke-width="1.3"/>
<line x1="665.10" y1="448.1" x2="665.10" y2="451.3" stroke="#2b2b2b" stroke-width="1.3"/>
<line x1="495.17" y1="448.1" x2="495.17" y2="450.3" stroke="#2b2b2b" stroke-width="1.2"/>
<line x1="543.73" y1="448.1" x2="543.73" y2="450.3" stroke="#2b2b2b" stroke-width="1.2"/>
<line x1="592.27" y1="448.1" x2="592.27" y2="450.3" stroke="#2b2b2b" stroke-width="1.2"/>
<line x1="640.83" y1="448.1" x2="640.83" y2="450.3" stroke="#2b2b2b" stroke-width="1.2"/>
<text x="507.65" y="464.0" font-size="13.86" textLength="22.32" lengthAdjust="spacingAndGlyphs" fill="#1a1a1a" stroke="#1a1a1a" stroke-width="0.3">880</text>
<text x="556.2" y="464.0" font-size="13.86" textLength="22.32" lengthAdjust="spacingAndGlyphs" fill="#1a1a1a" stroke="#1a1a1a" stroke-width="0.3">890</text>
<text x="604.75" y="464.0" font-size="13.86" textLength="22.32" lengthAdjust="spacingAndGlyphs" fill="#1a1a1a" stroke="#1a1a1a" stroke-width="0.3">900</text>
<text x="653.3" y="464.0" font-size="13.86" textLength="22.32" lengthAdjust="spacingAndGlyphs" fill="#1a1a1a" stroke="#1a1a1a" stroke-width="0.3">910</text>
<text x="526.86" y="307.0" font-size="14.49" font-style="italic" textLength="12.21" lengthAdjust="spacingAndGlyphs" fill="#111" stroke="#111" stroke-width="0.3">M</text>
<text x="538.89" y="312.6" font-size="9.14" font-style="italic" textLength="4.78" lengthAdjust="spacingAndGlyphs" fill="#111" stroke="#111" stroke-width="0.3">5</text>
<text x="594.07" y="307.0" font-size="14.49" font-style="italic" textLength="12.0" lengthAdjust="spacingAndGlyphs" fill="#111" stroke="#111" stroke-width="0.3">M</text>
<text x="606.26" y="312.1" font-size="8.55" font-style="italic" textLength="4.75" lengthAdjust="spacingAndGlyphs" fill="#111" stroke="#111" stroke-width="0.3">4</text>
<text x="536.97" y="480.3" font-size="15.22" textLength="99.92" lengthAdjust="spacingAndGlyphs" fill="#111" stroke="#111" stroke-width="0.3">Energy Loss (eV)</text>
<text x="345.72" y="140.2" font-size="9.24" textLength="25.46" lengthAdjust="spacingAndGlyphs" fill="#111" stroke="#111" stroke-width="0.3">plural</text>
<text x="346.11" y="151.8" font-size="9.38" textLength="42.33" lengthAdjust="spacingAndGlyphs" fill="#111" stroke="#111" stroke-width="0.3">scattering</text>
<line x1="348.3" y1="156.6" x2="348.3" y2="164.5" stroke="#111" stroke-width="1.3"/>
<path d="M345.90000000000003,162.5 L348.3,167.3 L350.7,162.5 Z" fill="#111"/>
<line x1="371.1" y1="156.6" x2="371.1" y2="164.5" stroke="#111" stroke-width="1.3"/>
<path d="M368.70000000000005,162.5 L371.1,167.3 L373.5,162.5 Z" fill="#111"/>
</svg>
</body></html>
